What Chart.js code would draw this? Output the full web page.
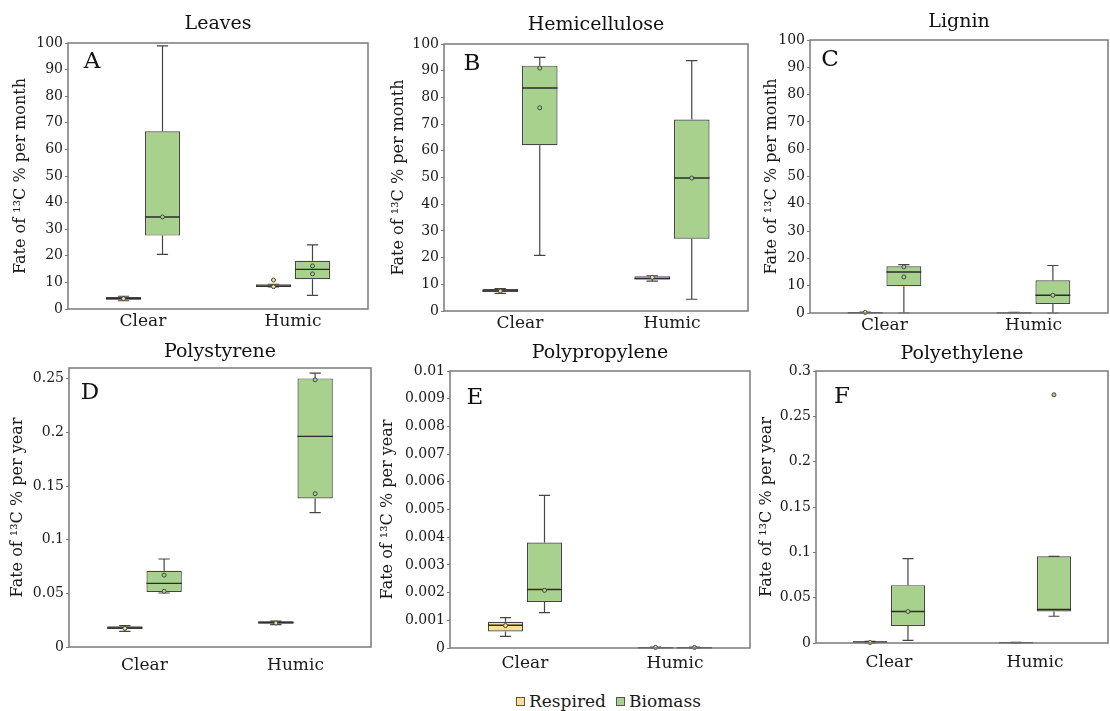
<!DOCTYPE html>
<html>
<head>
<meta charset="utf-8">
<script src="https://cdn.jsdelivr.net/npm/chart.js@4.4.1/dist/chart.umd.min.js"></script>
<style>
  body { margin: 0; background: #fff; width: 1110px; height: 711px; position: relative; overflow: hidden; font-family: "DejaVu Serif", serif; }
  canvas { position: absolute; }
  #legend { position: absolute; left: 516px; top: 691px; font-size: 17px; color: #1a1a1a; display: flex; align-items: center; white-space: nowrap; }
  .sw { display: inline-block; width: 7px; height: 7px; border: 1px solid #555; margin-right: 4px; }
</style>
</head>
<body>
<canvas id="cA"></canvas>
<canvas id="cB"></canvas>
<canvas id="cC"></canvas>
<canvas id="cD"></canvas>
<canvas id="cE"></canvas>
<canvas id="cF"></canvas>
<div id="legend"><span class="sw" style="background:#FFE08A"></span>Respired<span class="sw" style="background:#A9D18E;margin-left:10px"></span>Biomass</div>
<script>
// box stats per category: [min, q1, median, q3, max]
const categories = ["Clear", "Humic"];

const leavesRespired = [[3.1, 3.5, 3.9, 4.5, 4.8], [8.3, 8.3, 8.6, 9.3, 9.3]];
const leavesRespiredPts = [[3.9], [10.9, 8.4]];
const leavesBiomass = [[20.5, 27.6, 34.6, 66.8, 98.9], [5.1, 11.2, 14.9, 18.1, 24.1]];
const leavesBiomassPts = [[34.6], [16.2, 13.2]];

const hemiRespired = [[6.6, 7.2, 7.5, 8.2, 8.4], [11.2, 11.8, 12.2, 13.0, 13.2]];
const hemiRespiredPts = [[7.5], [12.6]];
const hemiBiomass = [[20.8, 62.1, 83.5, 91.9, 95.0], [4.4, 27.1, 49.8, 71.7, 93.8]];
const hemiBiomassPts = [[91.0, 76.1], [49.8]];

const ligninRespired = [[0, 0, 0.1, 0.3, 0.3], [0, 0, 0.05, 0.2, 0.2]];
const ligninRespiredPts = [[0.2], []];
const ligninBiomass = [[0, 9.8, 15.0, 17.1, 17.7], [0, 3.3, 6.5, 12.0, 17.4]];
const ligninBiomassPts = [[16.9, 13.2], [6.5]];

const psRespired = [[0.0146, 0.0168, 0.0178, 0.0193, 0.0199], [0.0208, 0.0217, 0.0228, 0.0239, 0.0242]];
const psRespiredPts = [[0.0174], [0.0224]];
const psBiomass = [[0.0503, 0.0512, 0.0593, 0.0711, 0.082], [0.1252, 0.1385, 0.1963, 0.2503, 0.2553]];
const psBiomassPts = [[0.067, 0.0519], [0.249, 0.1429]];

const ppRespired = [[0.00042, 0.0006, 0.00082, 0.00095, 0.0011], [0, 0, 0.00001, 0.00003, 0.00003]];
const ppRespiredPts = [[0.00081], [0.00002]];
const ppBiomass = [[0.00128, 0.00166, 0.00211, 0.00381, 0.00551], [0, 0, 0.00001, 0.00003, 0.00003]];
const ppBiomassPts = [[0.00208], [0.00002]];

const peRespired = [[0, 0, 0.001, 0.0018, 0.0018], [0, 0, 0.0004, 0.0008, 0.0008]];
const peRespiredPts = [[0.0005], []];
const peBiomass = [[0.003, 0.0188, 0.0347, 0.0638, 0.093], [0.0295, 0.0347, 0.0369, 0.0956, 0.0956]];
const peBiomassPts = [[0.0347], [0.2738]];

const monthTicks = [0, 10, 20, 30, 40, 50, 60, 70, 80, 90, 100];
const psTicks = [0, 0.05, 0.1, 0.15, 0.2, 0.25];
const ppTicks = [0, 0.001, 0.002, 0.003, 0.004, 0.005, 0.006, 0.007, 0.008, 0.009, 0.01];
const peTicks = [0, 0.05, 0.1, 0.15, 0.2, 0.25, 0.3];

const RESP = "#FFE08A";
const BIO = "#A9D18E";
const EDGE = "#454545";
const INK = "#1a1a1a";

Chart.defaults.font.family = "'DejaVu Serif', serif";
Chart.defaults.color = INK;

const panels = [
  { id: "cA", title: "Leaves", letter: "A", area: [68, 43, 368, 309], titleY: 24, yTitleX: 21, xPad: 2, letterAt: [24, 19],
    unit: "month", max: 100, ticks: monthTicks, resp: leavesRespired, respPts: leavesRespiredPts, bio: leavesBiomass, bioPts: leavesBiomassPts },
  { id: "cB", title: "Hemicellulose", letter: "B", area: [444, 44, 748, 311], titleY: 25, yTitleX: 399, xPad: 2, letterAt: [28, 20],
    unit: "month", max: 100, ticks: monthTicks, resp: hemiRespired, respPts: hemiRespiredPts, bio: hemiBiomass, bioPts: hemiBiomassPts },
  { id: "cC", title: "Lignin", letter: "C", area: [810, 40, 1108, 313], titleY: 22, yTitleX: 772, xPad: 2, letterAt: [20, 20],
    unit: "month", max: 100, ticks: monthTicks, resp: ligninRespired, respPts: ligninRespiredPts, bio: ligninBiomass, bioPts: ligninBiomassPts },
  { id: "cD", title: "Polystyrene", letter: "D", area: [69, 368, 371, 647], titleY: 352, yTitleX: 18, xPad: 8, letterAt: [21, 25],
    unit: "year", max: 0.26, ticks: psTicks, resp: psRespired, respPts: psRespiredPts, bio: psBiomass, bioPts: psBiomassPts },
  { id: "cE", title: "Polypropylene", letter: "E", area: [450, 371, 750, 648], titleY: 353, yTitleX: 388, xPad: 5, letterAt: [25, 27],
    unit: "year", max: 0.01, ticks: ppTicks, resp: ppRespired, respPts: ppRespiredPts, bio: ppBiomass, bioPts: ppBiomassPts },
  { id: "cF", title: "Polyethylene", letter: "F", area: [816, 371, 1108, 643], titleY: 354, yTitleX: 767, xPad: 9, letterAt: [26, 26],
    unit: "year", max: 0.3, ticks: peTicks, resp: peRespired, respPts: peRespiredPts, bio: peBiomass, bioPts: peBiomassPts }
];

// whiskers, medians and points on top of the floating bars
const boxPlugin = {
  id: "boxes",
  afterDatasetsDraw(chart) {
    const { ctx } = chart;
    const y = chart.scales.y;
    chart.data.datasets.forEach((ds, di) => {
      chart.getDatasetMeta(di).data.forEach((bar, i) => {
        const [min, q1, med, q3, max] = ds.stats[i];
        const half = bar.width / 2;
        const cap = bar.width * 0.16;
        ctx.save();
        ctx.strokeStyle = EDGE;
        ctx.lineWidth = 1.2;
        ctx.beginPath();
        ctx.moveTo(bar.x, y.getPixelForValue(q3));
        ctx.lineTo(bar.x, y.getPixelForValue(max));
        ctx.moveTo(bar.x - cap, y.getPixelForValue(max));
        ctx.lineTo(bar.x + cap, y.getPixelForValue(max));
        ctx.moveTo(bar.x, y.getPixelForValue(q1));
        ctx.lineTo(bar.x, y.getPixelForValue(min));
        ctx.moveTo(bar.x - cap, y.getPixelForValue(min));
        ctx.lineTo(bar.x + cap, y.getPixelForValue(min));
        ctx.stroke();
        ctx.strokeStyle = "#2b2b2b";
        ctx.lineWidth = 1.4;
        ctx.beginPath();
        ctx.moveTo(bar.x - half, y.getPixelForValue(med));
        ctx.lineTo(bar.x + half, y.getPixelForValue(med));
        ctx.stroke();
        ctx.lineWidth = 1;
        ctx.strokeStyle = "#444";
        ctx.fillStyle = ds.backgroundColor;
        for (const v of ds.points[i]) {
          ctx.beginPath();
          ctx.arc(bar.x, y.getPixelForValue(v), 2, 0, Math.PI * 2);
          ctx.fill();
          ctx.stroke();
        }
        ctx.restore();
      });
    });
  },
  afterDraw(chart, args, opts) {
    const { ctx, chartArea: a } = chart;
    ctx.save();
    ctx.strokeStyle = "#7a7a7a";
    ctx.lineWidth = 1.5;
    ctx.strokeRect(a.left, a.top, a.right - a.left, a.bottom - a.top);
    ctx.fillStyle = "#111";
    ctx.font = "23px 'DejaVu Serif'";
    ctx.textAlign = "center";
    ctx.textBaseline = "middle";
    ctx.fillText(opts.letter, a.left + opts.at[0], a.top + opts.at[1]);
    ctx.restore();
  }
};

function makePanel(p) {
  const [l, t, r, b] = p.area;
  const left = Math.round(p.yTitleX - 11.6);
  const top = p.titleY - 14;
  const canvas = document.getElementById(p.id);
  canvas.width = r + 2 - left;
  canvas.height = b + 30 - top;
  canvas.style.left = left + "px";
  canvas.style.top = top + "px";
  const titleTop = p.titleY - 11.4 - top;

  new Chart(canvas, {
    type: "bar",
    data: {
      labels: categories,
      datasets: [
        { label: "Respired", data: p.resp.map((s) => [s[1], s[3]]), stats: p.resp, points: p.respPts,
          backgroundColor: RESP, borderColor: EDGE, borderWidth: 1.2, borderSkipped: false },
        { label: "Biomass", data: p.bio.map((s) => [s[1], s[3]]), stats: p.bio, points: p.bioPts,
          backgroundColor: BIO, borderColor: EDGE, borderWidth: 1.2, borderSkipped: false }
      ]
    },
    options: {
      responsive: false,
      animation: false,
      layout: { padding: { left: 0, right: 2, top: 0, bottom: 0 } },
      barPercentage: 0.9,
      categoryPercentage: 0.52,
      plugins: {
        legend: { display: false },
        tooltip: { enabled: false },
        title: {
          display: true,
          text: p.title,
          fullSize: false,
          color: "#111",
          font: { size: 19, weight: "normal" },
          padding: { top: titleTop, bottom: t - top - titleTop - 22.8 }
        },
        boxes: { letter: p.letter, at: p.letterAt }
      },
      scales: {
        x: {
          grid: { display: false, drawTicks: false },
          border: { display: false },
          ticks: { font: { size: 17 }, color: INK, padding: p.xPad },
          afterFit: (s) => { s.height = 30; }
        },
        y: {
          min: 0,
          max: p.max,
          grid: { drawOnChartArea: false, drawTicks: true, tickLength: 3, color: "#7a7a7a" },
          border: { display: false },
          afterBuildTicks: (s) => { s.ticks = p.ticks.map((v) => ({ value: v })); },
          ticks: { font: { size: 14 }, color: INK, padding: 2, callback: (v) => String(v) },
          title: {
            display: true,
            text: "Fate of \u00b9\u00b3C % per " + p.unit,
            font: { size: 16 },
            color: INK,
            padding: { top: 2, bottom: 0 }
          },
          afterFit: (s) => { s.width = l - left; }
        }
      }
    },
    plugins: [boxPlugin]
  });
}

panels.forEach(makePanel);
</script>
</body>
</html>
